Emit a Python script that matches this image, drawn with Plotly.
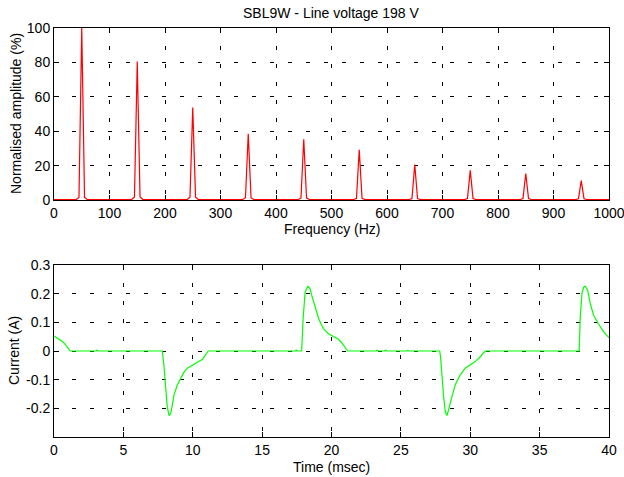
import plotly.graph_objects as go

# ---- Harmonic spectrum (top panel) ----
harmonic_hz = [50, 150, 250, 350, 450, 550, 650, 750, 850, 950]
harmonic_pct = [100, 80.5, 53.8, 38.5, 35.3, 29.2, 20.6, 17.2, 15.4, 11.3]
shoulder_pct = [1.5, 1.8, 1.6, 1.3, 1.2, 1.0, 0.9, 0.8, 0.8, 0.7]
floor_pct = 0.3
freq_span = [0, 1000]

# ---- Line current waveform (bottom panel) ----
time_ms = [0, 0.31, 0.56, 0.8, 1.0, 1.16, 3.0, 3.1, 3.2,
           7.8, 7.92, 8.04, 8.16, 8.29, 8.41, 8.53, 8.65, 8.89, 9.13, 9.37,
           9.61, 9.98, 10.34, 10.7, 10.87, 11.11,
           17.4, 17.46, 17.52, 17.85, 17.95, 18.1, 18.3, 18.45, 18.6, 18.75,
           18.9, 19.06, 19.25, 19.42, 19.78, 20.14, 20.5, 20.75, 20.99, 21.15,
           23.2, 23.3, 23.4, 23.8, 23.9, 24.0, 25.4, 25.5, 25.6,
           27.8, 27.86, 27.96, 28.08, 28.2, 28.32, 28.44, 28.56, 28.68, 28.92,
           29.28, 29.64, 30.0, 30.36, 30.72, 31.08,
           37.85, 37.93, 38.05, 38.17, 38.29, 38.46, 38.65, 38.89, 39.25,
           39.62, 40.0]
current_a = [0.052, 0.044, 0.035, 0.024, 0.01, 0, 0, 0.003, 0,
             0, -0.049, -0.124, -0.194, -0.225, -0.219, -0.188, -0.153, -0.118,
             -0.093, -0.074, -0.060, -0.049, -0.039, -0.029, -0.017, 0,
             0, 0.003, 0, 0, 0.11, 0.205, 0.226, 0.218, 0.19, 0.163,
             0.143, 0.115, 0.094, 0.078, 0.06, 0.049, 0.041, 0.028, 0.01, 0,
             0, 0.003, 0, 0, 0.003, 0, 0, 0.002, 0,
             0, -0.02, -0.089, -0.159, -0.211, -0.225, -0.205, -0.18, -0.159,
             -0.118, -0.083, -0.060, -0.049, -0.037, -0.020, 0,
             0, 0.119, 0.2, 0.222, 0.226, 0.212, 0.166, 0.125, 0.094,
             0.067, 0.046]

freq_ticks = list(range(0, 1001, 100))
pct_ticks = [0, 20, 40, 60, 80, 100]
time_ticks = list(range(0, 41, 5))
current_ticks = [-0.2, -0.1, 0, 0.1, 0.2, 0.3]
current_labels = ["-0.2", "-0.1", "0", "0.1", "0.2", "0.3"]

# spectrum polyline: floor, then a narrow peak at each harmonic (5 Hz bins)
spec_f = [freq_span[0]]
spec_a = [floor_pct]
for f, a, s in zip(harmonic_hz, harmonic_pct, shoulder_pct):
    spec_f += [f - 10, f - 5, f, f + 5, f + 10]
    spec_a += [floor_pct, s, a, s, floor_pct]
spec_f.append(freq_span[1])
spec_a.append(floor_pct)

W, H = 624, 477
FONT = "Liberation Sans, Arial, sans-serif"
FS = 14


def px_x(p):
    return p / W


def px_y(p):
    return 1 - p / H


fig = go.Figure()
fig.add_trace(go.Scatter(x=spec_f, y=spec_a, mode="lines",
                         line=dict(color="#ff0000", width=1.2),
                         xaxis="x", yaxis="y", showlegend=False))
fig.add_trace(go.Scatter(x=time_ms, y=current_a, mode="lines",
                         line=dict(color="#00ff00", width=1.2),
                         xaxis="x2", yaxis="y2", showlegend=False))

axis_common = dict(
    showline=True, linecolor="black", linewidth=1, mirror="ticks",
    ticks="inside", ticklen=5, tickcolor="black", tickwidth=1,
    showgrid=True, gridcolor="black", gridwidth=1, griddash="4px,14px",
    zeroline=False, automargin=False, ticklabeloverflow="allow",
    tickfont=dict(family=FONT, size=FS, color="black"),
)

x_dom = [px_x(54), px_x(609)]
fig.update_layout(
    width=W, height=H,
    margin=dict(l=0, r=0, t=0, b=0),
    paper_bgcolor="white", plot_bgcolor="white",
    font=dict(family=FONT, size=FS, color="black"),
    xaxis=dict(domain=x_dom, anchor="y", range=freq_span,
               tickvals=freq_ticks, **axis_common),
    yaxis=dict(domain=[px_y(200), px_y(28)], anchor="x", range=[0, 100],
               tickvals=pct_ticks, **axis_common),
    xaxis2=dict(domain=x_dom, anchor="y2", range=[0, 40],
                tickvals=time_ticks, **axis_common),
    yaxis2=dict(domain=[px_y(437), px_y(265)], anchor="x2", range=[-0.3, 0.3],
                tickvals=current_ticks, ticktext=current_labels, **axis_common),
)

texts = [
    ("SBL9W - Line voltage 198 V", 331.5, 13, 0),
    ("Frequency (Hz)", 331.5, 228.5, 0),
    ("Time (msec)", 331.5, 466.5, 0),
    ("Normalised amplitude (%)", 16, 114, -90),
    ("Current (A)", 14, 351, -90),
]
for txt, x, y, ang in texts:
    fig.add_annotation(text=txt, x=px_x(x), y=px_y(y), xref="paper", yref="paper",
                       xanchor="center", yanchor="middle", showarrow=False,
                       textangle=ang, font=dict(family=FONT, size=FS, color="black"))

fig.write_html("out.html")
